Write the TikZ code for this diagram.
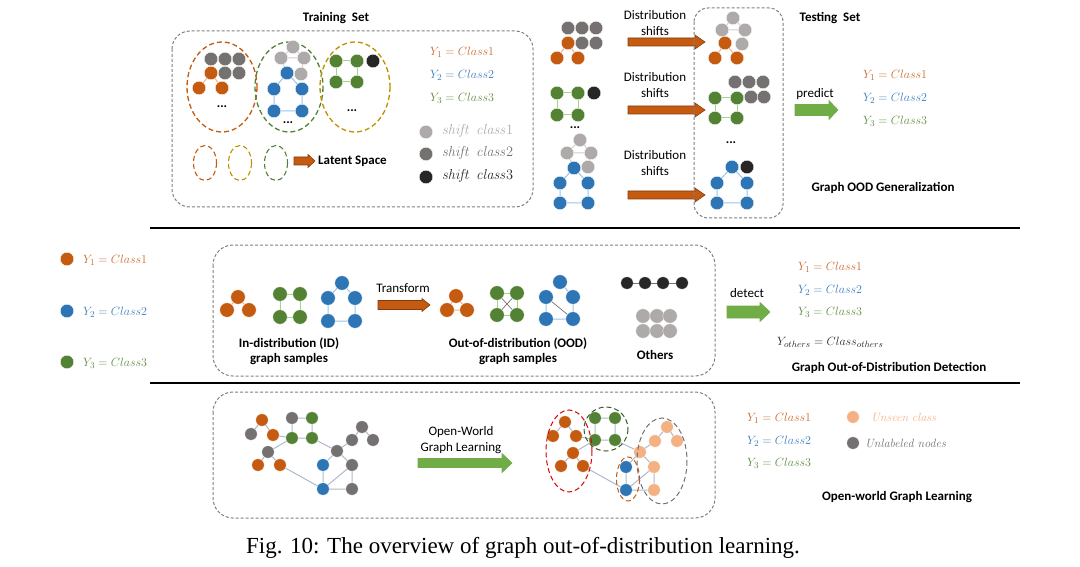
\documentclass[tikz,border=0pt]{standalone}
\usepackage[no-math]{fontspec}
\setmainfont{Carlito}
\newfontfamily\capfont{Liberation Serif}
\definecolor{cO}{HTML}{C55A11}
\definecolor{cB}{HTML}{2E75B6}
\definecolor{cG}{HTML}{548235}
\definecolor{cL}{HTML}{AEAAAA}
\definecolor{cD}{HTML}{767171}
\definecolor{cK}{HTML}{262626}
\definecolor{cP}{HTML}{F4B183}
\definecolor{eOc}{HTML}{F4B183}
\definecolor{eGc}{HTML}{A9D18E}
\definecolor{eBc}{HTML}{9DC3E6}
\definecolor{eLc}{HTML}{D0CECE}
\definecolor{eSc}{HTML}{ADB9CA}
\definecolor{arO}{HTML}{C55A11}
\definecolor{arOd}{HTML}{843C0C}
\definecolor{arG}{HTML}{70AD47}
\definecolor{cGold}{HTML}{BF9000}
\definecolor{boxc}{HTML}{7F7F7F}
\definecolor{tO}{HTML}{C8692A}
\definecolor{tB}{HTML}{3C7DBE}
\definecolor{tG}{HTML}{5E8C3F}
\newcommand{\blkarrow}[8]{%
  \filldraw[fill=#1,draw=#2,line width=0.6pt] (#3,{#5-#6}) -- ({#4-#8},{#5-#6}) -- ({#4-#8},{#5-#7}) -- (#4,#5) -- ({#4-#8},{#5+#7}) -- ({#4-#8},{#5+#6}) -- (#3,{#5+#6}) -- cycle;}
\tikzset{
  nd/.style={circle,inner sep=0pt,minimum size=13.5pt,draw=white,line width=0.3pt},
  nO/.style={nd,fill=cO}, nB/.style={nd,fill=cB}, nG/.style={nd,fill=cG},
  nL/.style={nd,fill=cL}, nD/.style={nd,fill=cD}, nK/.style={nd,fill=cK}, nP/.style={nd,fill=cP},
  eO/.style={draw=eOc,line width=1pt}, eG/.style={draw=eGc,line width=1pt},
  eB/.style={draw=eBc,line width=1pt}, eL/.style={draw=eLc,line width=1pt},
  eS/.style={draw=eSc,line width=1pt}, eK/.style={draw=cD,line width=1pt},
  dbox/.style={draw=boxc,dash pattern=on 3pt off 2pt,line width=1pt,rounded corners=18pt},
  dell/.style={dash pattern=on 5pt off 3pt,line width=1.3pt},
  lab/.style={inner sep=0pt,font=\fontsize{13}{16}\selectfont},
  blab/.style={inner sep=0pt,font=\fontsize{13}{15}\selectfont\bfseries},
  mlab/.style={inner sep=0pt,anchor=west,font=\fontsize{12.5}{14}\selectfont},
  slab/.style={inner sep=0pt,anchor=west,font=\fontsize{13.5}{14}\selectfont},
  dots/.style={inner sep=0pt,font=\fontsize{13}{13}\selectfont\bfseries}
}
\begin{document}
\begin{tikzpicture}[x=1pt,y=-1pt]
\useasboundingbox (0,0) rectangle (1080,567);
% ================= TOP: Training set =================
\node[blab] (trt) at (336,18) {Training\ \ Set};
\draw[dbox] (172,31) rectangle (533,207);
\draw[dell,cO] (222,87) ellipse [x radius=35,y radius=45];
\draw[dell,cG] (289,87) ellipse [x radius=34,y radius=45];
\draw[dell,cGold] (355,87) ellipse [x radius=35,y radius=45];
% ellipse 1
\node[nD] (t1a) at (211,59) {}; \node[nD] (t1b) at (225,59) {}; \node[nD] (t1c) at (239,59) {};
\node[nO] (t1d) at (211,73) {}; \node[nD] (t1e) at (225,73) {}; \node[nD] (t1f) at (239,73) {};
\node[nO] (t1g) at (199,88) {}; \node[nO] (t1h) at (222,88) {};
\draw[eO] (t1d)--(t1g) (t1d)--(t1h);
\node[dots] (dt1) at (222,107) {...};
% ellipse 2
\node[nL] (t2a) at (293,47) {}; \node[nL] (t2b) at (281,58) {}; \node[nL] (t2c) at (304,58) {};
\node[nB] (t2d) at (287,73) {}; \node[nL] (t2e) at (301,74) {};
\node[nB] (t2f) at (274,89) {}; \node[nB] (t2g) at (302,89) {};
\node[nB] (t2h) at (274,111) {}; \node[nB] (t2i) at (302,111) {};
\draw[eL] (t2a)--(t2b) (t2a)--(t2c) (t2b)--(t2c) (t2c)--(t2e) (t2b)--(t2d);
\draw[eB] (t2d)--(t2f) (t2d)--(t2g) (t2f)--(t2h) (t2g)--(t2i) (t2h)--(t2i);
\node[dots] (dt2) at (288,123) {...};
% ellipse 3
\node[nG] (t3a) at (336,61) {}; \node[nG] (t3b) at (357,61) {}; \node[nK] (t3c) at (373,61) {};
\node[nG] (t3d) at (336,82) {}; \node[nG] (t3e) at (357,82) {};
\draw[eG] (t3a)--(t3b) (t3a)--(t3d) (t3b)--(t3e) (t3d)--(t3e);
\node[dots] (dt3) at (352,111) {...};
% latent
\draw[dell,line width=1.1pt,cO] (205,163) ellipse [x radius=11.5,y radius=17.5];
\draw[dell,line width=1.1pt,cGold] (240,163) ellipse [x radius=11.5,y radius=17.5];
\draw[dell,line width=1.1pt,cG] (276,163) ellipse [x radius=11.5,y radius=17.5];
\blkarrow{arO}{arOd}{294}{315}{161}{4}{6.5}{7}
\node[blab,anchor=west] (lat) at (318,161) {Latent Space};
% legend
\node[mlab,text=tO] (ly1) at (430,52) {$Y_1 = Class1$};
\node[mlab,text=tB] (ly2) at (430,75) {$Y_2 = Class2$};
\node[mlab,text=tG] (ly3) at (430,98) {$Y_3 = Class3$};
\node[nL] (sc1) at (426,132) {}; \node[slab,text=cL] (sl1) at (442,131) {$\mathit{shift}\;\,\mathit{class}1$};
\node[nD] (sc2) at (426,154) {}; \node[slab,text=cD] (sl2) at (442,153) {$\mathit{shift}\;\,\mathit{class}2$};
\node[nK] (sc3) at (426,177) {}; \node[slab,text=cK] (sl3) at (442,176) {$\mathit{shift}\;\,\mathit{class}3$};
% ================= TOP: Testing =================
% left column
\node[nD] (a1) at (568,28) {}; \node[nD] (a2) at (582,28) {}; \node[nD] (a3) at (596,28) {};
\node[nO] (a4) at (568,43) {}; \node[nD] (a5) at (582,43) {}; \node[nD] (a6) at (596,43) {};
\node[nO] (a7) at (557,58) {}; \node[nO] (a8) at (578,58) {};
\draw[eO] (a4)--(a7) (a4)--(a8);
\node[nG] (b1) at (557,93) {}; \node[nG] (b2) at (578,93) {}; \node[nK] (b3) at (594,93) {};
\node[nG] (b4) at (557,115) {}; \node[nG] (b5) at (578,115) {};
\draw[eG] (b1)--(b2) (b1)--(b4) (b2)--(b5) (b4)--(b5);
\node[dots] (dt4) at (575,128) {...};
\node[nL] (c1) at (580,140) {}; \node[nL] (c2) at (567,153) {}; \node[nL] (c3) at (591,153) {};
\node[nL] (c4) at (588,167) {}; \node[nB] (c5) at (574,168) {};
\node[nB] (c6) at (560,183) {}; \node[nB] (c7) at (588,183) {};
\node[nB] (c8) at (560,203) {}; \node[nB] (c9) at (588,203) {};
\draw[eL] (c1)--(c2) (c1)--(c3) (c2)--(c3) (c3)--(c4) (c2)--(c5);
\draw[eB] (c5)--(c6) (c5)--(c7) (c6)--(c8) (c7)--(c9) (c8)--(c9);
% shifts
\node[lab,align=center] (ds1) at (655,23) {Distribution\\shifts};
\node[lab,align=center] (ds2) at (655,85) {Distribution\\shifts};
\node[lab,align=center] (ds3) at (655,163) {Distribution\\shifts};
\blkarrow{arO}{arOd}{628}{705}{42}{4}{7}{10}
\blkarrow{arO}{arOd}{628}{705}{110}{4}{7}{10}
\blkarrow{arO}{arOd}{628}{705}{195}{4}{7}{10}
% testing box
\draw[dbox,rounded corners=14pt] (694,8) rectangle (783,218);
\node[blab] (tst) at (830,18) {Testing\ \ Set};
\node[nL] (d1) at (733,18) {}; \node[nL] (d2) at (722,30) {}; \node[nL] (d3) at (745,30) {};
\node[nO] (d4) at (725,43) {}; \node[nL] (d5) at (742,44) {};
\node[nO] (d6) at (715,58) {}; \node[nO] (d7) at (737,58) {};
\draw[eL] (d1)--(d2) (d1)--(d3) (d2)--(d3) (d3)--(d5) (d2)--(d4);
\draw[eO] (d4)--(d6) (d4)--(d7);
\node[nD] (e1) at (735,82) {}; \node[nD] (e2) at (749,82) {}; \node[nD] (e3) at (763,82) {};
\node[nD] (e4) at (751,97) {}; \node[nD] (e5) at (764,97) {};
\node[nG] (e6) at (715,98) {}; \node[nG] (e7) at (737,98) {};
\node[nG] (e8) at (715,118) {}; \node[nG] (e9) at (737,118) {};
\draw[eG] (e6)--(e7) (e6)--(e8) (e7)--(e9) (e8)--(e9);
\node[dots] (dt5) at (731,143) {...};
\node[nB] (f1) at (732,167) {}; \node[nK] (f2) at (747,167) {};
\node[nB] (f3) at (717,183) {}; \node[nB] (f4) at (747,183) {};
\node[nB] (f5) at (717,203) {}; \node[nB] (f6) at (747,203) {};
\draw[eB] (f1)--(f3) (f1)--(f4) (f3)--(f5) (f4)--(f6) (f5)--(f6);
% predict
\node[lab] (pr) at (815,94) {predict};
\blkarrow{arG}{arG}{795}{838}{110}{5.5}{9.5}{9}
\node[mlab,text=tO] (py1) at (863,75) {$Y_1 = Class1$};
\node[mlab,text=tB] (py2) at (863,98) {$Y_2 = Class2$};
\node[mlab,text=tG] (py3) at (863,121) {$Y_3 = Class3$};
\node[blab] (gog) at (883,188) {Graph OOD Generalization};
% separators
\draw[line width=1.2pt] (150,228) -- (1020,228);
\draw[line width=1.2pt] (150,383) -- (1020,383);
% ================= MIDDLE =================
\node[nO] (lo) at (67,259) {}; \node[mlab,text=tO] (llo) at (83,260) {$Y_1 = Class1$};
\node[nB] (lb) at (67,311) {}; \node[mlab,text=tB] (llb) at (83,312) {$Y_2 = Class2$};
\node[nG] (lg) at (67,362) {}; \node[mlab,text=tG] (llg) at (83,363) {$Y_3 = Class3$};
\draw[dbox,rounded corners=20pt] (213,245) rectangle (715,376);
\begin{scope}[nd/.append style={minimum size=14.5pt}]
\node[nO] (m1) at (238,297) {}; \node[nO] (m2) at (227,310) {}; \node[nO] (m3) at (249,310) {};
\draw[eO] (m1)--(m2) (m1)--(m3);
\node[nG] (m4) at (280,294) {}; \node[nG] (m5) at (300,294) {};
\node[nG] (m6) at (280,317) {}; \node[nG] (m7) at (300,317) {};
\draw[eG] (m4)--(m5) (m4)--(m6) (m5)--(m7) (m6)--(m7);
\node[nB] (m8) at (342,283) {}; \node[nB] (m9) at (328,298) {}; \node[nB] (m10) at (355,298) {};
\node[nB] (m11) at (328,321) {}; \node[nB] (m12) at (355,321) {};
\draw[eB] (m8)--(m9) (m8)--(m10) (m9)--(m11) (m10)--(m12) (m11)--(m12);
\node[nO] (o1) at (456,296) {}; \node[nO] (o2) at (447,310) {}; \node[nO] (o3) at (467,310) {};
\draw[eO] (o1)--(o2) (o1)--(o3) (o2)--(o3);
\node[nG] (o4) at (497,293) {}; \node[nG] (o5) at (517,293) {};
\node[nG] (o6) at (497,315) {}; \node[nG] (o7) at (517,315) {};
\draw[eG] (o4)--(o5) (o4)--(o6) (o5)--(o7) (o6)--(o7);
\draw[eK,line width=0.7pt] (o4)--(o7) (o5)--(o6);
\node[nB] (o8) at (560,282) {}; \node[nB] (o9) at (546,297) {}; \node[nB] (o10) at (573,297) {};
\node[nB] (o11) at (546,319) {}; \node[nB] (o12) at (573,319) {};
\draw[eB] (o8)--(o10) (o9)--(o11) (o10)--(o12) (o11)--(o12);
\draw[eK,line width=0.7pt] (o9)--(o12);
\node[nL] (l1) at (643,316) {}; \node[nL] (l2) at (657,316) {}; \node[nL] (l3) at (670,316) {};
\node[nL] (l4) at (643,331) {}; \node[nL] (l5) at (657,331) {}; \node[nL] (l6) at (670,331) {};
\end{scope}
\begin{scope}[nd/.append style={minimum size=12.5pt}]
\node[nK] (k1) at (627,283) {}; \node[nK] (k2) at (645,283) {};
\node[nK] (k3) at (663,283) {}; \node[nK] (k4) at (682,283) {};
\draw[eK] (k1)--(k2) (k2)--(k3) (k3)--(k4);
\end{scope}
\node[lab] (trf) at (403,288) {Transform};
\blkarrow{arO}{arOd}{378}{430}{305}{4.5}{6.5}{8}
\node[blab,align=center] (idl) at (289,351) {In-distribution (ID)\\graph samples};
\node[blab,align=center] (oodl) at (518,351) {Out-of-distribution (OOD)\\graph samples};
\node[blab] (oth) at (655,355) {Others};
\node[lab] (det) at (747,293) {detect};
\blkarrow{arG}{arG}{727}{770}{312}{6}{9.5}{10}
\node[mlab,text=tO] (dy1) at (798,267) {$Y_1 = Class1$};
\node[mlab,text=tB] (dy2) at (798,290) {$Y_2 = Class2$};
\node[mlab,text=tG] (dy3) at (798,312) {$Y_3 = Class3$};
\node[mlab,text=cK] (dyo) at (777,342) {$Y_{others} = Class_{others}$};
\node[blab] (gdd) at (889,368) {Graph Out-of-Distribution Detection};
% ================= BOTTOM =================
\draw[dbox,rounded corners=20pt] (213,392) rectangle (715,518);
\begin{scope}[nd/.append style={minimum size=12.5pt}]
\node[nO] (g1) at (262,420) {}; \node[nD] (g2) at (251,434) {}; \node[nO] (g3) at (273,435) {};
\node[nD] (g4) at (292,418) {}; \node[nG] (g5) at (312,418) {};
\node[nG] (g6) at (292,438) {}; \node[nG] (g7) at (312,438) {};
\node[nD] (g8) at (268,452) {}; \node[nO] (g9) at (258,465) {}; \node[nO] (g10) at (280,465) {};
\node[nD] (g11) at (362,427) {}; \node[nD] (g12) at (352,440) {}; \node[nD] (g13) at (373,440) {};
\node[nD] (g14) at (337,451) {}; \node[nB] (g15) at (323,465) {}; \node[nD] (g16) at (352,465) {};
\node[nB] (g17) at (323,489) {}; \node[nD] (g18) at (352,489) {};
\draw[eS] (g1)--(g2) (g1)--(g3) (g3)--(g6) (g4)--(g5) (g4)--(g6) (g5)--(g7) (g6)--(g7)
  (g6)--(g8) (g8)--(g9) (g8)--(g10) (g10)--(g17) (g7)--(g14) (g14)--(g12) (g12)--(g11)
  (g11)--(g13) (g14)--(g15) (g14)--(g16) (g15)--(g17) (g17)--(g18) (g16)--(g18) (g17)--(g16);
\node[nO] (h1) at (565,422) {}; \node[nO] (h2) at (553,436) {}; \node[nO] (h3) at (576,436) {};
\node[nG] (h4) at (595,418) {}; \node[nG] (h5) at (615,418) {};
\node[nG] (h6) at (595,440) {}; \node[nG] (h7) at (615,440) {};
\node[nO] (h8) at (573,453) {}; \node[nO] (h9) at (561,466) {}; \node[nO] (h10) at (583,466) {};
\node[nP] (h11) at (667,427) {}; \node[nP] (h12) at (655,441) {}; \node[nP] (h13) at (677,441) {};
\node[nP] (h14) at (640,452) {}; \node[nB] (h15) at (626,467) {}; \node[nP] (h16) at (654,467) {};
\node[nB] (h17) at (626,490) {}; \node[nP] (h18) at (654,490) {};
\draw[eS] (h1)--(h2) (h1)--(h3) (h3)--(h6) (h4)--(h5) (h4)--(h6) (h5)--(h7) (h6)--(h7)
  (h6)--(h8) (h8)--(h9) (h8)--(h10) (h10)--(h17) (h7)--(h14) (h14)--(h12) (h12)--(h11)
  (h11)--(h13) (h14)--(h15) (h14)--(h16) (h15)--(h17) (h17)--(h18) (h16)--(h18) (h17)--(h16);
\node[nP] (uc) at (853,417) {};
\node[nD] (un) at (853,443) {};
\end{scope}
\draw[dell,line width=1pt,red!85!black] (569,451) ellipse [x radius=23,y radius=41];
\draw[dell,line width=1pt,cG!70!black] (606,429) ellipse [x radius=22,y radius=22];
\draw[dell,line width=1pt,cO] (628,479) ellipse [x radius=11.5,y radius=22];
\draw[dell,line width=1pt,cD] (662,461) ellipse [x radius=25,y radius=43];
\node[lab,align=center] (owl) at (461,440) {Open-World\\Graph Learning};
\blkarrow{arG}{arG}{418}{512}{463}{4.5}{9.5}{10}
\node[mlab,text=tO] (oy1) at (747,418) {$Y_1 = Class1$};
\node[mlab,text=tB] (oy2) at (747,441) {$Y_2 = Class2$};
\node[mlab,text=tG] (oy3) at (747,463) {$Y_3 = Class3$};
\node[slab,text=cP,font=\fontsize{13}{14}\selectfont] (ucl) at (871,417) {$\mathit{Unseen\ class}$};
\node[slab,text=cD,font=\fontsize{13}{14}\selectfont] (unl) at (865,443) {$\mathit{Unlabeled\ nodes}$};
\node[blab] (owg) at (897,497) {Open-world Graph Learning};
% caption
\node[inner sep=0pt,font=\capfont\fontsize{23}{25}\selectfont] (cap) at (523,548) {Fig. 10: The overview of graph out-of-distribution learning.};
\end{tikzpicture}
\end{document}
